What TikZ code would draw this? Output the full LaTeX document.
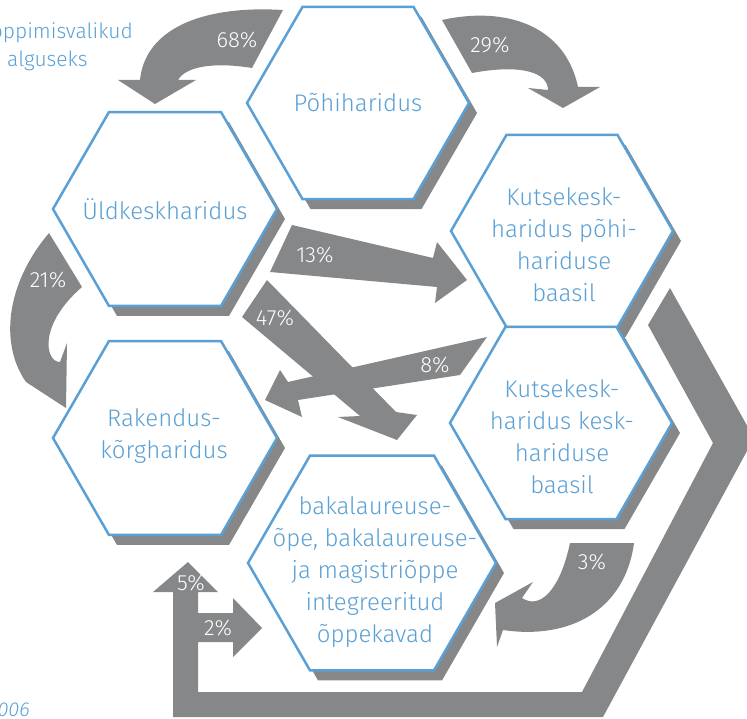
\documentclass[tikz,border=0pt]{standalone}
\usepackage{fontspec}
\setmainfont{Fira Sans Light}
\definecolor{hexblue}{RGB}{90,160,212}
\definecolor{agray}{RGB}{134,135,137}
\newcommand\hexagonat[4][]{\path[#1,shift={(#2,#3)}] (0:#4) -- (60:#4) -- (120:#4) -- (180:#4) -- (240:#4) -- (300:#4) -- cycle;}
\tikzset{
  arrowshape/.style={fill=agray},
  pct/.style={text=white, inner sep=0pt, font=\fontsize{22}{24}\selectfont},
  hexline/.style={draw=hexblue, line width=2.5pt, fill=white, line join=miter},
  hexshadow/.style={fill=agray},
  hextext/.style={text=hexblue, align=center, inner sep=0pt, font=\fontsize{24}{32}\selectfont},
  sidetext/.style={text=hexblue, inner sep=0pt, font=\fontsize{21}{28}\selectfont}
}
\begin{document}
\begin{tikzpicture}[x=1pt,y=-1pt]
\useasboundingbox (0,0) rectangle (747,719);
\clip (0,0) rectangle (747,719);
% arrows
\fill[arrowshape] (283,10) .. controls (200,5) and (145,30) .. (140,80) -- (118,80) -- (155,104) -- (196,80) -- (178,80) .. controls (186,66) and (215,62) .. (252,68) -- cycle;
\fill[arrowshape] (442,20) .. controls (505,6) and (565,25) .. (578,87) -- (600,87) -- (563,108) -- (528,88) -- (548,90) .. controls (548,72) and (520,64) .. (472,73) -- cycle;
\fill[arrowshape] (49,233) .. controls (5,285) and (0,345) .. (26,382) -- (66,408) -- (67,343) -- (60,362) .. controls (45,362) and (38,325) .. (82,287) -- cycle;
\fill[arrowshape] (292,225) -- (433,258) -- (437,242) -- (467,280) -- (435,303) -- (437,287) -- (270,272) -- cycle;
\fill[arrowshape] (267,280) -- (396,412) -- (417,415) -- (397,440) -- (338,417) -- (360,416) -- (242,317) -- cycle;
\fill[arrowshape] (487,337) -- (288,382) -- (280,370) -- (265,400) -- (302,417) -- (298,400) -- (460,375) -- cycle;
\fill[arrowshape] (570,543) -- (634,543) .. controls (625,610) and (570,640) .. (503,630) -- (497,647) -- (495,603) -- (533,582) -- (522,598) .. controls (540,610) and (560,590) .. (570,543) -- cycle;
\fill[arrowshape] (670,288) -- (754,438) -- (603,717) -- (173,717) -- (173,592) -- (153,592) -- (188,562) -- (218,592) -- (198,592) -- (198,613) -- (233,613) -- (233,598) -- (262,628) -- (233,657) -- (233,642) -- (198,642) -- (198,692) -- (582,692) -- (713,443) -- (648,325) -- cycle;
% labels on arrows
\node[pct] (p68) at (237,40) {68\%};
\node[pct] (p29) at (490,45) {29\%};
\node[pct] (p21) at (48,280) {21\%};
\node[pct] (p13) at (315,255) {13\%};
\node[pct] (p47) at (275,318) {47\%};
\node[pct] (p8) at (435,365) {8\%};
\node[pct] (p3) at (592,562) {3\%};
\node[pct] (p5) at (191,583) {5\%};
\node[pct] (p2) at (218,628) {2\%};
% shadows
\foreach \cx/\cy/\r in {358/103/111, 165/209/112, 165/438/112, 562/231/111, 561/423/111, 372/563/124}{
  \hexagonat[hexshadow]{\cx+8}{\cy+10}{\r}
}
% hexagons
\foreach \cx/\cy/\r in {358/103/111, 165/209/112, 165/438/112, 562/231/111, 561/423/111, 372/563/124}{
  \hexagonat[hexline]{\cx}{\cy}{\r}
}
% hexagon texts
\node[hextext] (pohi) at (358,103) {Põhiharidus};
\node[hextext] (yld) at (165,209) {Üldkeskharidus};
\node[hextext] (rak) at (164,436) {Rakendus-\\kõrgharidus};
\node[hextext] (kpohi) at (564,245) {Kutsekesk-\\haridus põhi-\\hariduse\\baasil};
\node[hextext] (kkesk) at (562,437) {Kutsekesk-\\haridus kesk-\\hariduse\\baasil};
\node[hextext] (bak) at (375,572) {bakalaureuse-\\õpe, bakalaureuse-\\ja magistriõppe\\integreeritud\\õppekavad};
% side texts
\node[sidetext, anchor=base east] (t1) at (133,39) {oppimisvalikud};
\node[sidetext, anchor=base west] (t2) at (7,67) {alguseks};
\node[sidetext, anchor=base east, font=\fontsize{20}{24}\selectfont\itshape] (yr) at (30,716) {2006};
\end{tikzpicture}
\end{document}
